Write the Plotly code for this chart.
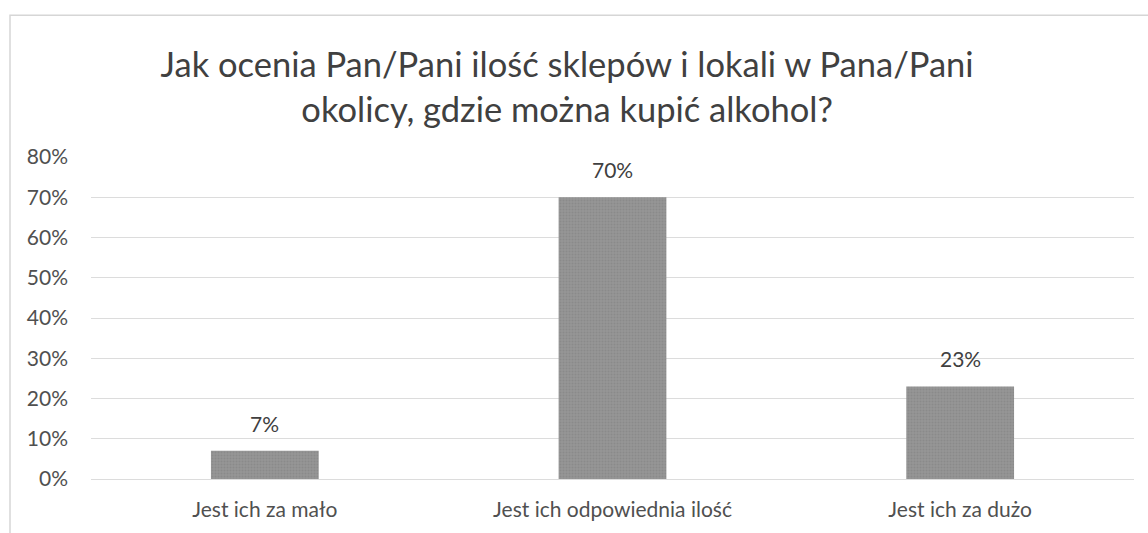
import plotly.graph_objects as go

categories = ["Jest ich za mało", "Jest ich odpowiednia ilość", "Jest ich za dużo"]
shares = [0.07, 0.70, 0.23]
tick_vals = [0, 0.1, 0.2, 0.3, 0.4, 0.5, 0.6, 0.7, 0.8]

FONT = "Lato, 'Open Sans', sans-serif"
W, H = 1148, 533
ML, MR, MT, MB = 91, 14, 157, 51

fig = go.Figure()
fig.add_trace(go.Bar(
    x=categories,
    y=shares,
    width=0.31,
    marker=dict(
        color="#8e8e8e",
        line=dict(width=0),
        pattern=dict(shape=".", size=3, solidity=0.35, fgcolor="#7d7d7d",
                     bgcolor="#969696", fillmode="overlay"),
    ),
    hoverinfo="skip",
))

# value labels above each bar
for c, v in zip(categories, shares):
    fig.add_annotation(
        x=c, y=v, text=f"{round(v * 100)}%", showarrow=False,
        yanchor="bottom", yshift=13,
        font=dict(family=FONT, size=21, color="#404040"),
    )

# thin frame around the chart area (left and top edges)
px = lambda x: (x - ML) / (W - ML - MR)
py = lambda y: (H - MB - y) / (H - MT - MB)
fig.add_shape(
    type="path", xref="paper", yref="paper",
    path=f"M {px(10)} {py(540)} L {px(10)} {py(14)} L {px(1160)} {py(14)}",
    line=dict(color="#d6d6d6", width=1.5), layer="below",
)

fig.update_layout(
    width=W, height=H,
    margin=dict(l=ML, r=MR, t=MT, b=MB),
    paper_bgcolor="white", plot_bgcolor="white",
    showlegend=False,
    bargap=0.69,
    title=dict(
        text="Jak ocenia Pan/Pani ilość sklepów i lokali w Pana/Pani<br>okolicy, gdzie można kupić alkohol?",
        x=0.494, xanchor="center", xref="container",
        y=0.855, yanchor="top", yref="container",
        font=dict(family=FONT, size=34.5, color="#404040"),
    ),
    font=dict(family=FONT, color="#595959"),
    xaxis=dict(
        showgrid=False, showline=False, ticks="",
        tickfont=dict(family=FONT, size=21, color="#505050"),
        ticklabelstandoff=16,
    ),
    yaxis=dict(
        range=[0, 0.8],
        tickvals=tick_vals,
        tickformat=".0%",
        showgrid=True, gridcolor="#dcdcdc", gridwidth=1,
        zeroline=True, zerolinecolor="#dcdcdc", zerolinewidth=1,
        showline=False, ticks="",
        tickfont=dict(family=FONT, size=21, color="#505050"),
        ticklabelstandoff=22,
    ),
)

fig.write_html("out.html")
